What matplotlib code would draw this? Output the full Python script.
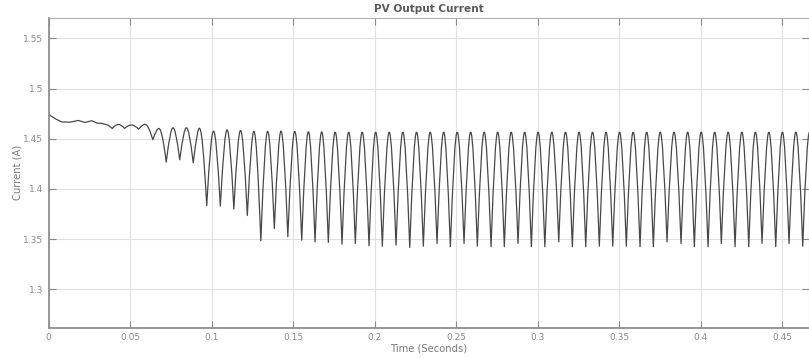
import matplotlib
matplotlib.use("Agg")
import matplotlib.pyplot as plt
from matplotlib.path import Path
from matplotlib.patches import PathPatch

# ---------------- data ----------------
# initial transient (time s, current A)
start_t = [0.0000, 0.0021, 0.0046, 0.0081, 0.0132, 0.0183, 0.0224, 0.0265,
           0.0297, 0.0328, 0.0365, 0.0391]
start_v = [1.4745, 1.4720, 1.4695, 1.4667, 1.4665, 1.4682, 1.4662, 1.4679,
           1.4656, 1.4653, 1.4635, 1.4603]

# ripple troughs (time s, current A)
trough_t = [0.03907, 0.04661, 0.05526, 0.06391, 0.07219, 0.08047, 0.08874,
            0.09702, 0.10537, 0.11365, 0.12192, 0.13020, 0.13848, 0.14676,
            0.15529, 0.16345, 0.17160, 0.18000, 0.18816, 0.19656, 0.20472,
            0.21312, 0.22153, 0.22987, 0.23827, 0.24643, 0.25483, 0.26298,
            0.27139, 0.27954, 0.28795, 0.29611, 0.30439, 0.31291, 0.32125,
            0.32947, 0.33781, 0.34603, 0.35437, 0.36277, 0.37093, 0.37933,
            0.38792, 0.39608, 0.40448, 0.41263, 0.42104, 0.42944, 0.43759,
            0.44600, 0.45415, 0.46256, 0.47090]
trough_v = [1.4603, 1.4603, 1.4595, 1.4490, 1.4267, 1.4290, 1.4260,
            1.3834, 1.3830, 1.3800, 1.3735, 1.3483, 1.3605, 1.3524,
            1.3490, 1.3473, 1.3467, 1.3450, 1.3457, 1.3434, 1.3430,
            1.3440, 1.3417, 1.3430, 1.3457, 1.3424, 1.3457, 1.3430,
            1.3424, 1.3424, 1.3457, 1.3424, 1.3424, 1.3473, 1.3424,
            1.3424, 1.3430, 1.3430, 1.3430, 1.3424, 1.3424, 1.3473,
            1.3457, 1.3424, 1.3424, 1.3457, 1.3424, 1.3424, 1.3457,
            1.3424, 1.3457, 1.3430, 1.3430]
# ripple peaks between consecutive troughs
peak_v = [1.4642, 1.4637, 1.4642, 1.4599, 1.4609, 1.4609, 1.4599,
          1.4576, 1.4589, 1.4583, 1.4573, 1.4573, 1.4576, 1.4573,
          1.4570, 1.4568, 1.4566, 1.4566, 1.4566, 1.4566, 1.4566,
          1.4566, 1.4566, 1.4566, 1.4566, 1.4566, 1.4566, 1.4566,
          1.4566, 1.4566, 1.4566, 1.4566, 1.4566, 1.4566, 1.4566,
          1.4566, 1.4566, 1.4566, 1.4566, 1.4566, 1.4566, 1.4566,
          1.4566, 1.4566, 1.4566, 1.4566, 1.4566, 1.4566, 1.4566,
          1.4566, 1.4566, 1.4566]

x_ticks = [0, 0.05, 0.1, 0.15, 0.2, 0.25, 0.3, 0.35, 0.4, 0.45]
x_tick_labels = ["0", "0.05", "0.1", "0.15", "0.2", "0.25", "0.3", "0.35", "0.4", "0.45"]
y_ticks = [1.3, 1.35, 1.4, 1.45, 1.5, 1.55]
y_tick_labels = ["1.3", "1.35", "1.4", "1.45", "1.5", "1.55"]

title = "PV Output Current"
x_label = "Time (Seconds)"
y_label = "Current (A)"

# ---------------- drawing ----------------
LINE = "#484848"
fig = plt.figure(figsize=(8.09, 3.58), dpi=100)
ax = fig.add_axes([0.060, 0.0846, 0.940, 0.8665])

ax.plot(start_t, start_v, color=LINE, lw=0.9, solid_joinstyle="round")

# ripple arcs: cubic Bezier from trough to trough through the peak level
K = 0.4244
H = 4.0 / 3.0
verts = [(trough_t[0], trough_v[0])]
codes = [Path.MOVETO]
for i in range(len(trough_t) - 1):
    t0, v0 = trough_t[i], trough_v[i]
    t1, v1 = trough_t[i + 1], trough_v[i + 1]
    p = peak_v[i]
    d = t1 - t0
    verts += [(t0 + K * d, v0 + H * (p - v0)),
              (t1 - K * d, v1 + H * (p - v1)),
              (t1, v1)]
    codes += [Path.CURVE4] * 3
ax.add_patch(PathPatch(Path(verts, codes), fill=False, edgecolor=LINE, lw=0.9,
                       joinstyle="round"))

ax.set_xlim(0, 0.4664)
ax.set_ylim(1.2618, 1.5707)
ax.set_xticks(x_ticks)
ax.set_xticklabels(x_tick_labels)
ax.set_yticks(y_ticks)
ax.set_yticklabels(y_tick_labels)

ax.grid(True, color="#e0e0e0", lw=0.8)
ax.set_axisbelow(True)
ax.tick_params(direction="in", length=5, width=0.8, color="#8a8a8a",
               labelsize=6.5, labelcolor="#8a8a8a", top=True, right=True, pad=4)
for side in ["left", "bottom"]:
    ax.spines[side].set_color("#8f8f8f")
    ax.spines[side].set_linewidth(1.3)
for side in ["top", "right"]:
    ax.spines[side].set_color("#b0b0b0")
    ax.spines[side].set_linewidth(0.8)

ax.set_title(title, fontsize=7.6, fontweight="bold", color="#5a5a5a", pad=4)
ax.set_xlabel(x_label, fontsize=7.2, color="#7a7a7a", labelpad=1)
ax.set_ylabel(y_label, fontsize=7.2, color="#7a7a7a", labelpad=0)

fig.savefig("out.png", dpi=100)
